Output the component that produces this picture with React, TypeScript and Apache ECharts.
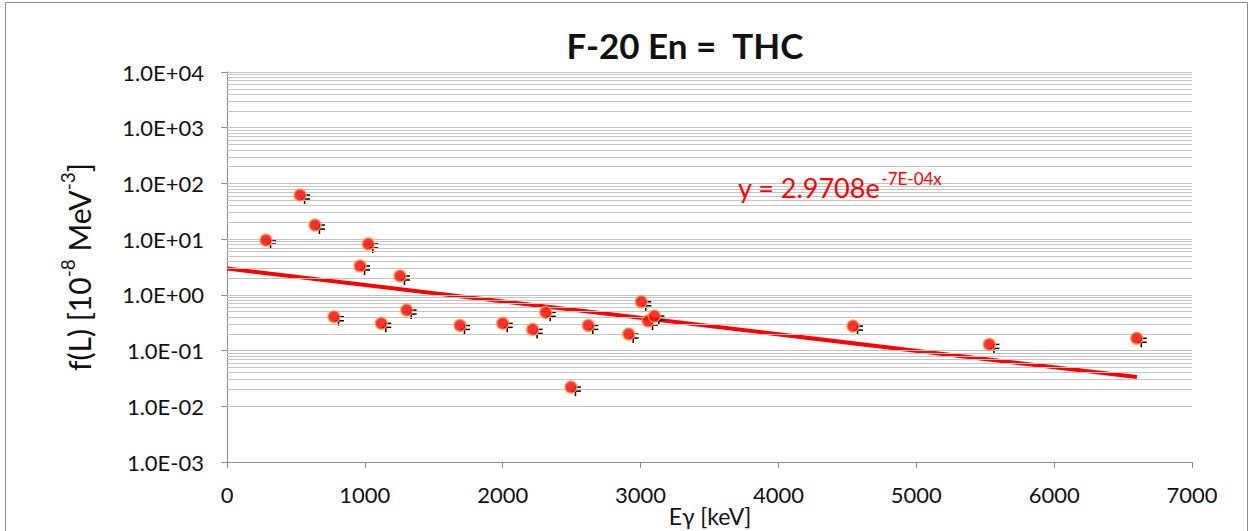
import React, { useEffect, useRef } from "react";
import * as echarts from "echarts";

const energy = [283, 530, 638, 776, 965, 1025, 1119, 1255, 1303, 1690, 2000, 2217, 2312, 2495, 2621, 2914, 3005, 3054, 3100, 4541, 5530, 6599];
const fL = [9.6, 62, 17.9, 0.405, 3.3, 8.2, 0.308, 2.18, 0.533, 0.283, 0.308, 0.24, 0.485, 0.0221, 0.283, 0.198, 0.751, 0.339, 0.416, 0.275, 0.129, 0.166];
const trendX = [0, 6600];
const trendY = [2.9708, 0.0334];
const decades = [-3, -2, -1, 0, 1, 2, 3];
const mantissas = [1, 2, 3, 4, 5, 6, 7, 8, 9];
const trendBase = "y = 2.9708e";
const trendExp = "-7E-04x";

const FONT = "Lato, 'Open Sans', sans-serif";

export default function App() {
  const ref = useRef<HTMLDivElement>(null);
  useEffect(() => {
    if (!ref.current) return;
    const chart = echarts.init(ref.current, null, { renderer: "svg" });
    const gridValues: number[] = [];
    decades.forEach((d) => mantissas.forEach((m) => gridValues.push(m * Math.pow(10, d))));
    gridValues.push(10000);
    const points = energy.map((x, i) => [x, fL[i]]);
    const trend = trendX.map((x, i) => [x, trendY[i]]);
    const fmt = (v: number) => {
      const e = Math.round(Math.log10(v));
      return "1.0E" + (e < 0 ? "-" : "+") + String(Math.abs(e)).padStart(2, "0");
    };
    const ctx = document.createElement("canvas").getContext("2d");
    let baseW = 140;
    if (ctx) {
      ctx.font = "27px " + FONT;
      baseW = ctx.measureText(trendBase).width;
    }
    chart.setOption({
      animation: false,
      textStyle: { fontFamily: FONT },
      grid: { left: 227, right: 61, top: 72, bottom: 69 },
      title: {
        text: "F-20 En =  THC",
        left: 680,
        top: 22,
        textAlign: "center",
        textStyle: { fontFamily: FONT, fontSize: 35, fontWeight: "bold", color: "#111" },
      },
      xAxis: {
        type: "value",
        min: 0,
        max: 7000,
        interval: 1000,
        axisLine: { show: true, lineStyle: { color: "#8c8c8c", width: 1 } },
        axisTick: { show: true, length: 6, lineStyle: { color: "#8c8c8c" } },
        splitLine: { show: false },
        axisLabel: { fontSize: 22, color: "#111", margin: 21, fontFamily: FONT, formatter: (v: number) => String(v) },
      },
      yAxis: {
        type: "log",
        logBase: 10,
        min: 0.001,
        max: 10000,
        axisLine: { show: true, lineStyle: { color: "#8c8c8c", width: 1 } },
        axisTick: { show: true, length: 6, lineStyle: { color: "#8c8c8c" } },
        splitLine: { show: false },
        axisLabel: { fontSize: 22, color: "#111", margin: 23, formatter: fmt, fontFamily: FONT },
      },
      graphic: [
        {
          type: "rect",
          shape: { x: 5.5, y: 2.5, width: 1242, height: 540 },
          style: { fill: "none", stroke: "#8c8c8c", lineWidth: 1 },
          silent: true,
        },
        {
          type: "text",
          x: 76,
          y: 267,
          rotation: Math.PI / 2,
          style: {
            text: "{a|f(L) [10}{s|-8}{a| MeV}{s|-3}{a|]}",
            align: "center",
            verticalAlign: "middle",
            fill: "#111",
            rich: {
              a: { fontSize: 30, fontFamily: FONT, fill: "#111", lineHeight: 36, verticalAlign: "bottom" },
              s: { fontSize: 19, fontFamily: FONT, fill: "#111", verticalAlign: "top", lineHeight: 36 },
            },
          },
        },
        {
          type: "text",
          x: 710,
          y: 516,
          style: {
            text: "Eγ [keV]",
            align: "center",
            verticalAlign: "middle",
            fontSize: 23,
            fontFamily: FONT,
            fill: "#111",
          },
        },
        {
          type: "text",
          x: 738,
          y: 187,
          z: 10,
          style: {
            text: trendBase,
            align: "left",
            verticalAlign: "middle",
            fontSize: 27,
            fontFamily: FONT,
            fill: "#ff0000",
          },
        },
        {
          type: "text",
          x: 738 + baseW + 1,
          y: 178,
          z: 10,
          style: {
            text: trendExp,
            align: "left",
            verticalAlign: "middle",
            fontSize: 17,
            fontFamily: FONT,
            fill: "#ff0000",
          },
        },
      ],
      series: [
        {
          type: "scatter",
          data: [],
          silent: true,
          z: 1,
          markLine: {
            silent: true,
            symbol: "none",
            label: { show: false },
            lineStyle: { color: "#c4c4c4", width: 1, type: "solid" },
            data: gridValues.map((v) => ({ yAxis: v })),
          },
        },
        {
          type: "line",
          data: trend,
          symbol: "none",
          lineStyle: { color: "#ff0000", width: 4 },
          z: 3,
        },
        {
          type: "custom",
          data: points,
          z: 4,
          renderItem: (params: any, api: any) => {
            const p = api.coord([api.value(0), api.value(1)]);
            const s = { stroke: "#000", lineWidth: 1.5 };
            return {
              type: "group",
              children: [
                { type: "line", shape: { x1: p[0] + 4, y1: p[1], x2: p[0] + 10, y2: p[1] }, style: s },
                { type: "line", shape: { x1: p[0] + 1, y1: p[1] + 4, x2: p[0] + 10, y2: p[1] + 4 }, style: s },
                { type: "line", shape: { x1: p[0] + 4.5, y1: p[1] + 1, x2: p[0] + 4.5, y2: p[1] + 9 }, style: s },
              ],
            };
          },
        },
        {
          type: "scatter",
          data: points,
          symbol: "circle",
          symbolSize: 12,
          itemStyle: { color: "#ff0000", borderColor: "#f5a04a", borderWidth: 1.5 },
          z: 5,
        },
      ],
    });
    return () => chart.dispose();
  }, []);
  return (
    <div
      ref={ref}
      style={{ position: "fixed", left: 0, top: 0, width: 1253, height: 531, background: "#fff" }}
    />
  );
}
